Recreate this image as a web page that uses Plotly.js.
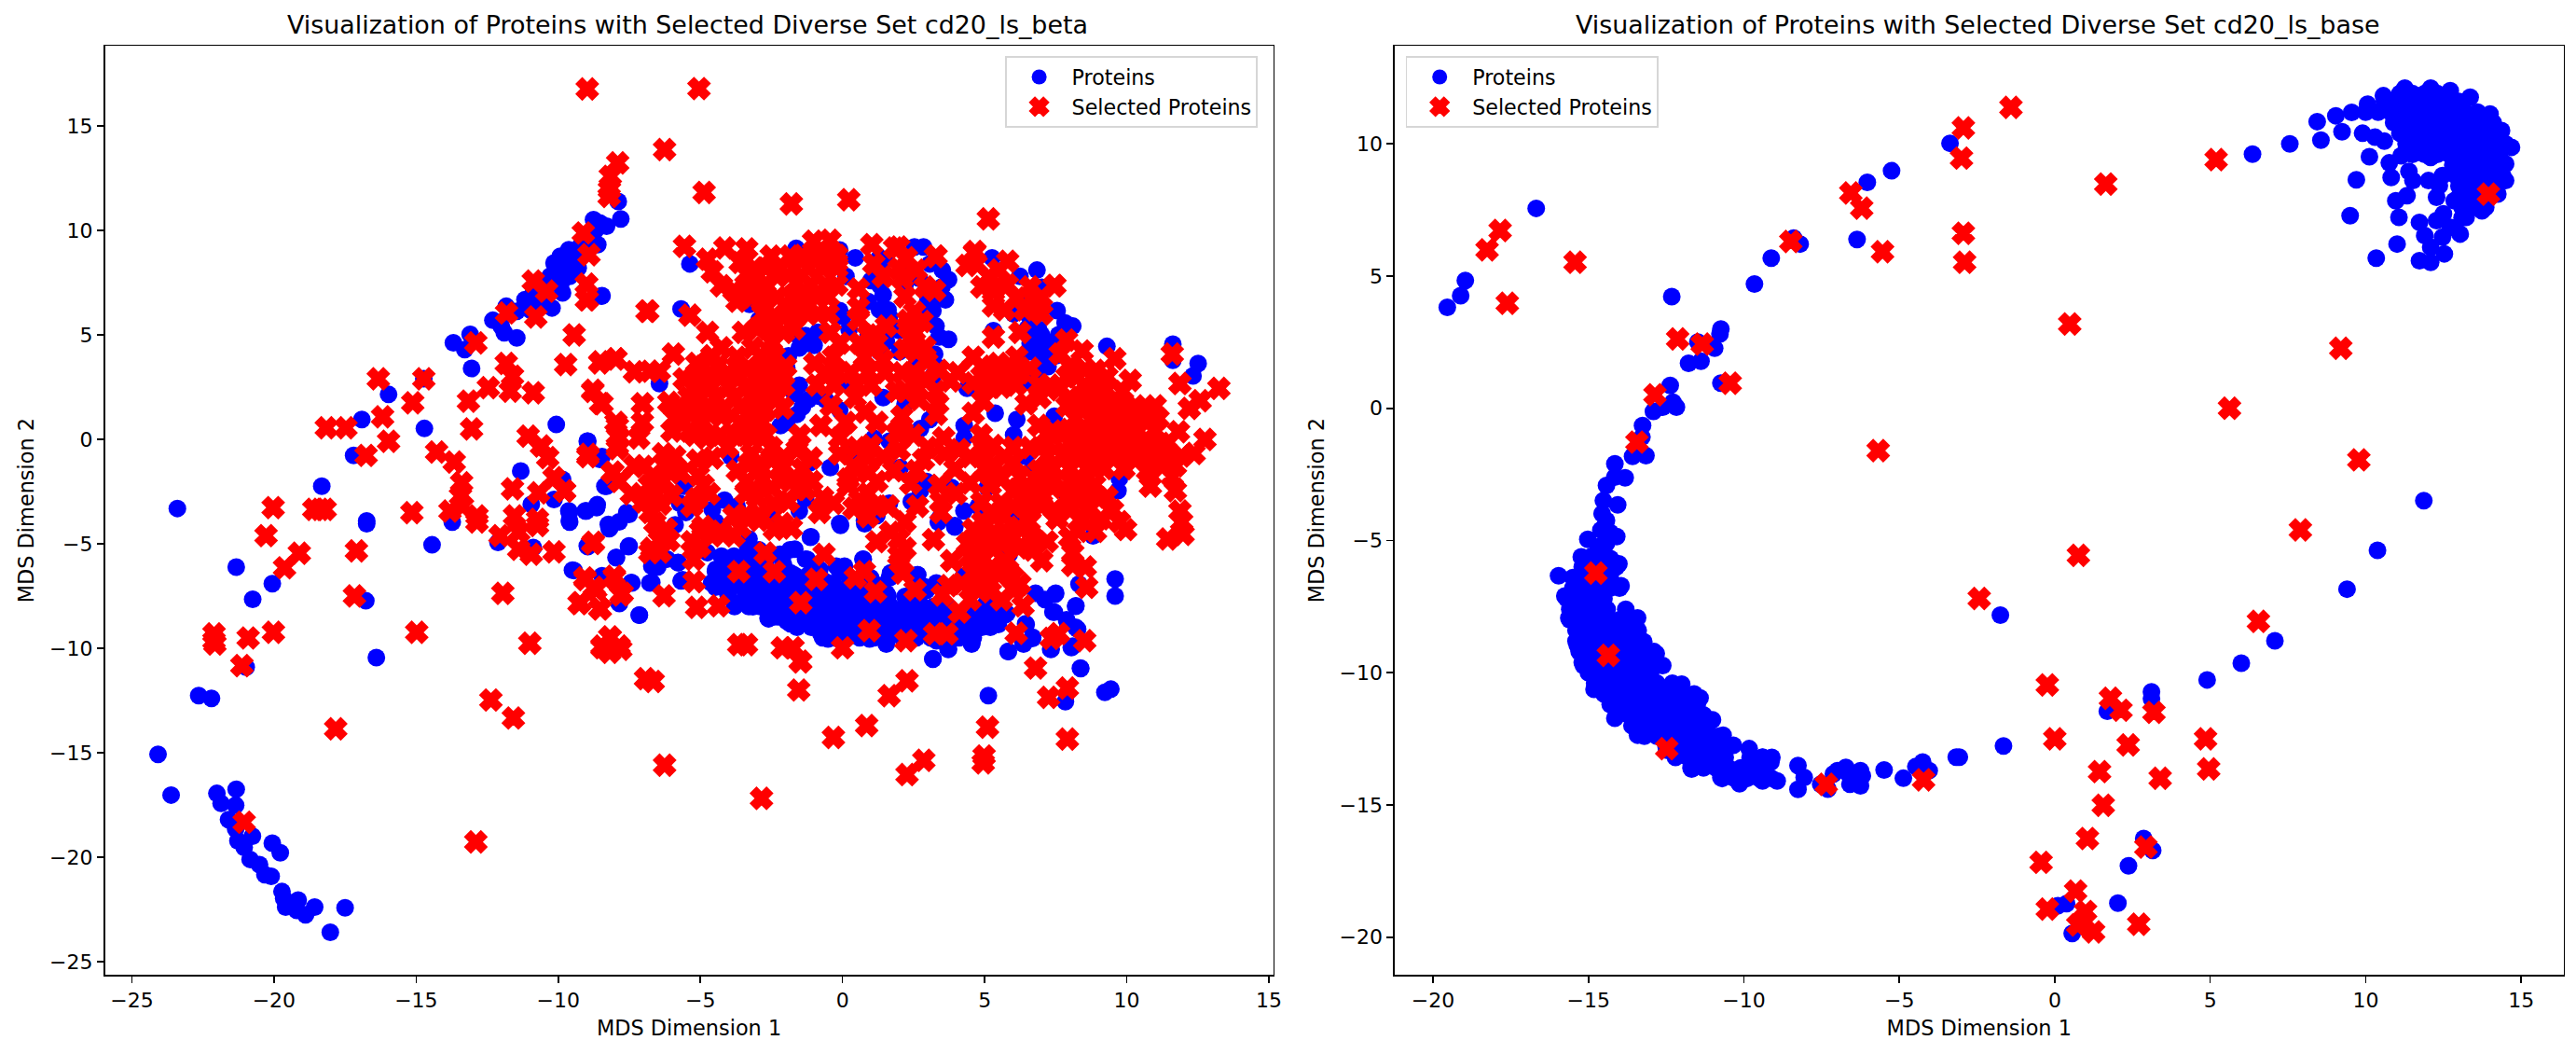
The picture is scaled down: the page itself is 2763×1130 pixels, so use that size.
<!DOCTYPE html>
<html><head><meta charset="utf-8">
<script src="https://cdn.plot.ly/plotly-3.0.1.min.js"></script>
<style>html,body{margin:0;padding:0;background:#fff}#c{width:2763px;height:1130px}</style>
</head><body><div id="c"></div>
<script>
const titleLeft = "Visualization of Proteins with Selected Diverse Set cd20_ls_beta";
const titleRight = "Visualization of Proteins with Selected Diverse Set cd20_ls_base";
const xLabel = "MDS Dimension 1", yLabel = "MDS Dimension 2";
const nameBlue = "Proteins", nameRed = "Selected Proteins";
const leftXTicks = [-25,-20,-15,-10,-5,0,5,10,15];
const leftYTicks = [-25,-20,-15,-10,-5,0,5,10,15];
const rightXTicks = [-20,-15,-10,-5,0,5,10,15];
const rightYTicks = [-20,-15,-10,-5,0,5,10];

// LEFT panel, blue
const leftBlueArm = [[-7.89,11.39],[-7.8,10.55],[-8.54,10.36],[-8.76,10.52],[-8.83,9.88],[-8.61,9.32],[-9.12,8.92],[-9.41,8.6],[-9.71,8.44],[-10,8.13],[-10.29,7.81],[-9.63,9.08],[-9.93,8.76],[-10.15,8.44],[-9.85,7.01],[-10.22,6.29],[-8.48,6.85],[-10.88,7.01],[-11.17,6.69],[-11.83,6.37],[-11.46,6.13],[-12.3,5.7],[-11.9,5.1],[-11.46,4.86],[-13.1,5.02],[-13.69,4.62],[-13.29,4.3],[-13.05,3.39],[-15.97,2.15],[-16.91,0.95],[-14.71,0.52],[-10.07,0.71],[-8.98,-0.09],[-8.54,-0.96],[-11.32,-1.52],[-18.32,-2.24],[-17.2,-0.77],[-23.4,-3.31],[-10.15,-2.88],[-9.05,-3.43],[-8.65,-3.27],[-8.36,-2.24],[-10.95,-3.11],[-9.63,-3.43],[-16.74,-3.91],[-9.85,-1.92],[-8.24,-4.07],[-7.51,-3.59],[-9.3,8.2],[-9.6,7.8],[-9.9,7.5],[-10.4,7.3],[-10.6,6.6],[-11,6.2],[-12,5.4],[-9.0,9.6],[-8.7,10.0],[-8.3,10.2],[-9.2,9.3],[-9.5,8.9],[-14.73,2.9]];
const leftBlueTail = [[-21.33,-6.12],[-20.06,-6.91],[-20.75,-7.66],[-16.77,-7.73],[-14.44,-5.05],[-16.4,-10.45],[-12.12,-4.93],[-20.98,-10.91],[-22.65,-12.27],[-22.2,-12.4],[-24.08,-15.08],[-23.62,-17.03],[-21.33,-16.75],[-22.01,-16.95],[-21.86,-17.43],[-21.35,-17.52],[-21.6,-18.21],[-21.35,-18.65],[-20.76,-19],[-21.27,-19.22],[-21.05,-19.54],[-20.06,-19.33],[-19.78,-19.79],[-20.84,-20.11],[-20.51,-20.36],[-20.32,-20.84],[-20.1,-20.92],[-19.72,-21.65],[-19.66,-21.98],[-19.59,-22.39],[-19.15,-22.06],[-19.2,-22.55],[-18.89,-22.76],[-18.57,-22.39],[-17.5,-22.43],[-18.02,-23.6],[-9.44,-6.28],[-8.98,-5.1],[-7.95,-5.66],[-8.21,-4.28],[-7.51,-5.1],[-7.41,-6.88],[-6.78,-6.88],[-7.15,-8.42],[-7.85,-7.86],[-8.46,-6.53],[-10.88,-5.18],[-9.6,-3.96],[-13.73,-3.96],[-16.74,-4.04],[-6.71,-6.07]];
const leftBlueUpper = [[-5.37,8.4],[-8.46,6.88],[-5.68,6.24],[-1.63,9.14],[-0.1,9.07],[0.45,8.69],[0.12,7.8],[-0.1,6.16],[0.01,5.87],[1.43,6.91],[1.32,7.35],[-1.3,4.97],[-1.52,4.38],[-0.87,5.12],[-2.4,3.78],[-1.96,3.41],[-2.94,5.72],[-3.27,6.46],[-1.52,2.59],[-0.87,2.07],[-1.41,1.55],[-1.9,1.03],[-2.18,0.66],[1.43,2],[1.1,0.06],[1.65,-0.09],[0.23,2.59],[-6.44,2.67],[-3.38,0.66],[-0.1,1.4],[-8.96,-0.09],[-4.69,3.04],[1.54,4.68],[1.65,5.87],[0.23,5.27],[2.53,9.21],[2.85,9.21],[3.73,7.65],[3.62,6.68],[3.18,6.16],[3.29,5.42],[3.73,4.79],[5.26,8.69],[6.84,8.1],[7.01,7.28],[6.24,7.8],[7.55,6.16],[8.1,5.42],[5.31,5.2],[7.01,4.68],[7.01,3.78],[7.23,3.48],[9.3,4.45],[11.62,4.56],[11.62,3.78],[12.51,3.63],[12.33,3.04],[3.24,4.08],[3.18,3.04],[2.74,0.51],[3.07,0.95],[4.28,0.66],[4.28,0.06],[5.37,1.25],[6.13,0.95],[7.45,1.1],[8.32,1.7],[8.43,0.06],[4.38,2.44],[2.2,1.7],[6.02,0.21],[3.51,8.1],[3.07,8.4],[6.02,6],[6.57,5.87],[6.9,5.27],[7.23,4.23],[6.57,2.74],[7.83,5.57],[7.34,3.93],[1.6,6.2],[2,5.2],[2.4,8],[2.2,7.4],[1,7.6],[0.9,6.6],[1.5,8.6],[3,7.2],[3.4,4.9],[6.6,4.6],[7.4,4.6],[6.8,4.2],[7.6,5],[6.4,6.4],[1.3,8.7],[1.3,6.2],[0.9,5],[1.5,5],[2,4.2],[2.6,3.6],[3.3,3.5],[2.7,7.7],[3,6.6],[2.9,5.9],[3.3,6.8],[3.5,7.3],[1.3,4.2],[6.5,5.3],[6.6,4.2],[7,5],[7.3,4.6],[7.5,4],[6.9,3.2],[-1.7,2.2],[-1.2,1.9],[-0.6,1.9],[-1.6,1.2],[-2,0.8],[-1.2,4.6],[-1.6,5],[-1,4.5],[-2.1,3.9],[-2.4,3.3],[-1.9,4]];
const leftBlueMiddle = [[-9.61,-3.5],[-9.61,-3.88],[-9.01,-3.43],[-8.63,-3.13],[-8.3,-2.24],[-8.46,-0.83],[-3.93,-0.83],[-5.57,-2.24],[-5.73,-3.06],[-5.51,-3.5],[-5.89,-4.1],[-8.19,-4.25],[-7.59,-3.5],[-7.53,-5.14],[-7.97,-5.66],[-9.5,-6.26],[-8.96,-5.14],[-6.5,-6.11],[-6.71,-6.85],[-6.17,-5.74],[-5.79,-5.89],[-5.68,-6.78],[-7.15,-8.42],[-7.43,-6.85],[-7.86,-7.82],[-7.86,-3.95],[-0.43,-1.35],[0.39,-0.6],[-1.3,-2.84],[-1.52,-3.43],[-0.1,-4.03],[0.77,-3.88],[1.21,-3.65],[-1.11,-4.67],[-4.15,-2.91],[-3.71,-3.21],[-4.58,-3.36],[-4.47,-3.95],[-2.51,-3.58],[0.72,-5.74],[1.65,-3.06],[-2.83,-2.24],[-1.14,-1.12],[2.03,-1.35],[2.96,-2.02],[2.74,-2.46],[2.42,-2.98],[3.84,-2.31],[3.4,-3.8],[4.27,-3.43],[4.77,-3.21],[3.95,-4.13],[5.09,-2.31],[6.46,-0.83],[6.68,-1.42],[7.01,-1.72],[6.19,-3.65],[5.86,-5.51],[8.81,-4.62],[9.74,-1.87],[9.69,-2.46],[7.77,-2.46],[-1.13,-4.69],[0.73,-5.75],[2.64,-6.48],[4.25,-6.56],[-0.07,-4.12],[0.78,-4.04],[3.37,-3.96],[3.95,-4.2],[9.59,-6.69],[9.59,-7.5]];
const leftBlueBand = [[-3.38,-4.99],[-2.94,-5.29],[-4.26,-5.59],[-3.82,-5.59],[-4.47,-6.33],[-4.04,-6.63],[-3.38,-6.03],[-2.94,-6.33],[-4.47,-7.08],[-4.04,-7.37],[-3.49,-7.82],[-3.16,-7.97],[-2.51,-7.52],[-2.62,-8.56],[-1.96,-8.71],[-1.3,-8.71],[-1.85,-5.29],[-1.3,-5.74],[-2.07,-6.03],[-1.52,-6.63],[-0.65,-6.78],[-0.1,-6.33],[0.45,-6.93],[0.99,-6.63],[-0.87,-7.82],[-0.32,-7.52],[0.23,-7.52],[0.77,-7.82],[1.43,-7.52],[-0.76,-9.31],[-0.87,-8.71],[-0.32,-9.16],[0.23,-9.31],[0.77,-9.31],[1.43,-9.31],[1.54,-9.76],[-0.32,-8.42],[0.23,-8.42],[0.88,-8.56],[1.54,-8.56],[-1.52,-7.37],[-2.07,-7.37],[-2.94,-7.08],[-2.29,-6.63],[1.65,-6.63],[-5.78,-5.91],[-5.63,-6.72],[-4.76,-5.42],[-4.46,-6.23],[-4.02,-5.91],[-4.61,-6.88],[-3.88,-7.04],[-3.51,-7.77],[-3.15,-8.02],[-3,-6.72],[-3.29,-4.77],[-2.27,-8.5],[-1.83,-8.83],[-1.32,-8.75],[-1.68,-5.26],[-2.12,-5.75],[-1.83,-6.4],[-1.54,-7.04],[-2.27,-7.21],[-2.56,-7.53],[-1.24,-5.75],[-0.8,-9.15],[-0.51,-9.56],[-0.22,-6.07],[-0.8,-6.23],[-0.51,-6.88],[0.22,-8.5],[0.51,-9.15],[0.95,-9.56],[-0.51,-7.86],[0.07,-7.37],[0.66,-7.86],[1.54,-7.37],[2.12,-8.18],[1.54,-8.99],[2.12,-8.83],[2.86,-7.04],[3.15,-8.18],[2.71,-9.15],[3.3,-9.64],[3.59,-8.83],[4.32,-9.15],[4.9,-9],[5.35,-8.83],[4.61,-8.67],[5.49,-8.34],[5.05,-7.86],[5.78,-8.34],[4.76,-5.75],[-0.07,-8.83],[-0.36,-8.5],[0.95,-8.5],[1.39,-8.18],[2.71,-8.18],[-1.1,-7.86],[-0.8,-7.21],[0.37,-6.72],[0.07,-6.07],[1.69,-6.4],[2.42,-7.53],[3.3,-6.88],[4.47,-7.04]];
const leftBlueBandFill = [[-3.4,-5.5],[-3,-5.5],[-2.6,-5.5],[-2.2,-5.5],[-3.7,-6],[-3.1,-6],[-2.7,-6],[-4,-6.5],[-3.6,-6.5],[-3.2,-6.5],[-2.7,-6.5],[-2.1,-6.5],[-1.7,-6.5],[-1.2,-6.5],[-4.2,-7],[-3.6,-7],[-3.1,-7],[-2.6,-7],[-2.2,-7],[-1.7,-7],[-1.2,-7],[-0.8,-7],[-0.3,-7],[0.2,-7],[0.7,-7],[1.3,-7],[-4,-7.5],[-3.4,-7.5],[-2.9,-7.5],[-2.3,-7.5],[-1.9,-7.5],[-1,-7.5],[-0.6,-7.5],[0,-7.5],[0.5,-7.5],[1,-7.5],[1.6,-7.5],[2.3,-7.5],[2.7,-7.5],[-3.8,-8],[-3.3,-8],[-2.9,-8],[-2.4,-8],[-2,-8],[-1.6,-8],[-1.1,-8],[-0.5,-8],[0,-8],[0.5,-8],[1.1,-8],[1.7,-8],[2.3,-8],[2.8,-8],[3.2,-8],[3.7,-8],[-2.4,-8.5],[-1.9,-8.5],[-1.5,-8.5],[-1.1,-8.5],[-0.7,-8.5],[-0.2,-8.5],[0.4,-8.5],[0.9,-8.5],[1.5,-8.5],[2,-8.5],[2.6,-8.5],[3.1,-8.5],[3.6,-8.5],[4,-8.5],[4.6,-8.5],[5,-8.5],[-1.6,-9],[-1.1,-9],[-0.6,-9],[-0.1,-9],[0.4,-9],[0.9,-9],[1.4,-9],[1.9,-9],[2.4,-9],[2.9,-9],[3.4,-9],[3.9,-9],[4.4,-9],[4.8,-9],[5.2,-9],[-0.7,-9.5],[-0.3,-9.5],[0.1,-9.5],[0.6,-9.5],[1.1,-9.5],[1.6,-9.5],[2.1,-9.5],[2.6,-9.5],[3.1,-9.5],[3.6,-9.5],[4.1,-9.5],[4.6,-9.5]];
const leftBlueBandRight = [[7.5,-7.37],[8.21,-7.97],[7.45,-8.27],[7.88,-8.64],[8.27,-9.09],[6.46,-8.86],[6.68,-9.53],[6.35,-9.75],[8.1,-9.9],[7.34,-10.05],[8.37,-10.95],[5.83,-10.16],[4.55,-9.75],[3.73,-10.05],[3.18,-10.5],[2.64,-6.48],[4.28,-6.56],[4.71,-6.33],[8.32,-6.93],[7.12,-7.67],[6.79,-7.37],[5.15,-8.56],[5.48,-8.86],[4.6,-9.16],[4.28,-8.86],[2.96,-9.31],[2.53,-8.71],[2.09,-8.12],[2.53,-8.12],[2.96,-8.27],[3.4,-8.27],[4.71,-8.27],[5.15,-7.97],[5.7,-8.42],[2.2,-7.52],[2.96,-7.22],[2.09,-9.31],[3.51,-8.86],[8.38,-10.97],[5.13,-12.27],[9.23,-12.11],[9.44,-11.96],[7.84,-12.56],[3.18,-10.53],[5.83,-10.16],[8.05,-9.97],[8.2,-7.99],[7.47,-7.42],[7.4,-8.26],[7.91,-8.75],[8.2,-9],[7.32,-10.05],[6.37,-9.8],[6.69,-9.48],[6.44,-8.83],[3.71,-10.05],[4.54,-9.8],[1.54,-9.8],[-2.6,-8.59]];

// LEFT panel, red
const leftRedArm = [[-8.98,16.77],[-7.91,13.23],[-8.17,12.59],[-8.2,11.95],[-8.21,11.63],[-9.12,9.88],[-8.92,8.84],[-9,7.41],[-8.98,6.69],[-10.88,7.57],[-10.41,7.09],[-11.82,6.05],[-10.79,5.86],[-9.44,5],[-12.9,4.62],[-11.83,3.63],[-9.74,3.58],[-8.54,3.66],[-7.98,3.85],[-7.32,3.23],[-6.85,6.13],[-6.78,3.26],[-16.33,2.9],[-14.73,2.9],[-12.46,2.47],[-11.61,3.02],[-11.69,2.31],[-10.88,2.23],[-8.78,2.35],[-8.51,1.72],[-15.12,1.75],[-13.16,1.83],[-16.18,1.08],[-18.16,0.55],[-17.47,0.55],[-13.05,0.5],[-11.06,0.15],[-10.59,-0.32],[-10.37,-0.88],[-15.97,-0.09],[-14.28,-0.61],[-13.66,-1.09],[-16.76,-0.77],[-8.95,-0.72],[-7.92,0.63],[-7.92,-0.32],[-8.1,-1.6],[-10.15,-1.84],[-13.4,-2.08],[-13.44,-2.72],[-13.37,-3.2],[-11.61,-2.37],[-10.69,-2.56],[-9.78,-2.48],[-20.03,-3.27],[-18.38,-3.35],[-18.6,-3.35],[-18.2,-3.35],[-15.15,-3.51],[-13.81,-3.43],[-12.86,-3.67],[-11.54,-3.67],[-10.73,-3.83]];
const leftRedTail = [[-20.28,-4.61],[-19.11,-5.45],[-19.63,-6.15],[-17.1,-5.34],[-17.17,-7.5],[-22.11,-9.32],[-22.11,-9.64],[-22.08,-9.8],[-20.91,-9.51],[-20.02,-9.24],[-21.13,-10.83],[-14.98,-9.24],[-11.95,-7.37],[-11,-9.76],[-12.37,-12.48],[-11.58,-13.34],[-17.83,-13.86],[-21.05,-18.33],[-12.9,-19.27],[-10.15,-5.39],[-12.05,-4.61],[-11.39,-4.45],[-11.39,-5.26],[-10.95,-5.5],[-10.73,-4.12],[-12.86,-3.96],[-9.05,-6.72],[-8.76,-4.93],[-8.68,-7.2],[-9.27,-7.86],[-8.54,-8.1],[-8.02,-6.64],[-7.8,-7.45],[-8.17,-9.48],[-8.46,-9.97],[-7.8,-10.05],[-8.17,-9.97],[-6.93,-11.46],[-6.78,-5.42]];
const leftRedTop = [[-5.05,16.79],[-6.26,13.87],[-4.87,11.82],[-1.8,11.27],[0.22,11.47],[5.13,10.55],[-5.56,9.24],[-4.14,9.16],[-3.37,9.11],[-1.02,9.48],[-0.44,9.53],[1.03,9.32],[1.83,9.16],[3.27,8.76],[4.64,8.92],[5.81,8.52],[7.47,7.36],[-4.75,8.62],[-4.58,8.02],[-3.6,8.47],[-2.51,8.77],[-1.85,8.77],[-0.65,8.62],[-0.21,8.47],[-4.26,7.35],[-3.82,7.13],[-3.27,7.8],[-2.72,7.43],[-2.29,7.8],[-1.63,7.5],[-3.71,6.61],[-2.83,6.61],[-2.4,5.87],[-2.07,5.12],[-3.49,5.12],[-2.51,4.68],[-0.87,6.91],[-0.87,6.01],[-1.3,6.46],[-0.43,5.12],[0.56,7.2],[0.56,6.31],[0.56,5.72],[1.1,8.4],[1.43,7.8],[1.54,5.42],[-0.32,3.93],[-0.98,3.63],[0.77,3.93],[1.43,3.78],[-4.26,4.38],[-3.71,3.93],[-3.16,4.38],[-4.8,2.89],[-4.04,3.19],[-3.38,3.34],[-2.51,2.59],[-2.07,2.59],[-2.94,2.29],[-4.47,2],[-3.82,2],[-4.91,0.81],[-4.26,1.1],[-3.6,1.55],[-2.83,0.81],[-3.16,0.06],[-0.76,0.66],[0.45,2],[0.12,0.81],[1.21,0.81],[-0.1,0.06],[-3.82,0.21],[-4.8,0.06],[-7.86,0.06],[-7.17,0.06],[-5.95,4.08],[-6.44,3.26],[-5.13,3.63],[-5.57,2.89],[-6.11,1.77],[-7.04,1.7],[-7.04,0.81],[-7.97,0.81],[-8.46,1.7],[-8.79,2.29],[-7.97,3.86],[-8.52,3.71],[-5.37,5.94],[-4.75,5.12],[-6.88,6.13],[-9.01,7.43],[-9.01,6.68],[-5.9,1],[-5.4,1.6],[-5,1.2],[-6,0.4],[-5.4,0.4],[-2.1,1.5],[-1.5,0.2],[-0.4,1.6],[0.8,1.3]];
const leftRedTopFill = [[-1.4,8.8],[-1,8.8],[-0.6,8.8],[-0.2,8.8],[-3.1,8.2],[-2.7,8.2],[-2.2,8.2],[-1.7,8.2],[-1.2,8.2],[-0.7,8.2],[-0.2,8.2],[-3.4,7.4],[-3,7.4],[-1.1,7.4],[-0.6,7.4],[-0.2,7.4],[-3.2,6.8],[-2.3,6.8],[-1.8,6.8],[-1.4,6.8],[-0.9,6.8],[-0.5,6.8],[-2.8,6],[-2,6],[-1.6,6],[-1.2,6],[-0.5,6],[-3,5.3],[-2.6,5.3],[-1.7,5.3],[-4.6,4],[-2.9,4],[-2.4,4],[-4.9,3.5],[-4.4,3.5],[-3.7,3.5],[-2.9,3.5],[-2.4,3.5],[-2,3.5],[-5.2,3],[-4.3,3],[-3.6,3],[-3,3],[-2.5,3],[-2.1,3],[-5.2,2.5],[-4.6,2.5],[-4,2.5],[-3.4,2.5],[-3,2.5],[-5.4,2],[-5,2],[-3.2,2],[-2.7,2],[-2.3,2],[-5.6,1.4],[-4.7,1.4],[-4.2,1.4],[-3.1,1.4],[-2.7,1.4],[-5.6,0.8],[-3.6,0.8],[-3.3,0.8],[-5.2,0.2],[-4.3,0.2],[-3.4,0.2],[-2.7,0.2],[-0.6,3.2],[-0.2,3.2],[0.3,3.2],[0.9,3.2],[1.5,3.2],[-0.9,2.6],[-0.3,2.6],[0.5,2.6],[1,2.6],[-0.1,4.6],[0.6,4.6],[1.2,4.6],[0.9,5],[1.1,5]];
const leftRedRight = [[2.25,8.69],[3.29,8.77],[1.98,9.21],[1.98,8.17],[4.66,8.99],[4.38,8.32],[5.15,7.8],[5.31,7.06],[5.31,6.39],[6.13,6.76],[6.68,6.76],[7.45,7.35],[7.01,6],[3.24,7.13],[2.2,6.83],[2.53,6.09],[2.8,5.64],[2.53,4.68],[5.31,4.9],[6.24,5.12],[11.6,4.08],[7.88,4.75],[7.66,4.08],[8.43,4.23],[9.58,3.86],[10.12,2.82],[9.85,2.3],[2.96,3.71],[4.6,3.93],[4.06,3.19],[6.13,3.93],[5.48,3.63],[6.24,3.19],[5.59,3.04],[8.54,3.34],[8.98,2.59],[7.61,2.37],[6.95,2],[6.46,1.7],[11.87,2.67],[13.24,2.44],[12.58,1.85],[12.2,1.48],[3.35,1.7],[3.29,2.29],[2.53,2.74],[2.09,3.19],[2.09,1.1],[4.93,1.85],[4.6,1.25],[4.88,0.21],[3.56,0.06],[11.82,0.36],[12.75,-0.01],[9.52,1.4],[10.18,1.4],[10.62,1.4],[8.98,1.4],[8.87,0.66],[9.52,0.51],[10.18,0.51],[10.94,-0.09],[7.72,0.21],[6.9,0.66],[9.15,2.23],[10.47,1.27],[9.59,0.95],[8.86,0.79],[9.89,0.31],[10.18,-0.33],[9.3,-0.33],[8.71,-0.96],[7.98,0.47],[7.83,-0.64],[11.35,-0.48],[8.86,-1.28],[11.93,-0.8],[10.91,-1.28],[9.5,-0.9],[10.3,-1],[8.2,0.1]];
const leftRedRightFill = [[8,2],[8.6,2],[9.2,2],[7.9,1.6],[8.5,1.6],[9.1,1.6],[9.7,1.6],[10.3,1.6],[11,1.6],[8.2,1],[8.8,1],[9.4,1],[10,1],[10.6,1],[11.1,1],[7.4,0.4],[8.4,0.4],[9,0.4],[9.7,0.4],[10.4,0.4],[11,0.4],[7.2,-0.2],[8,-0.2],[8.6,-0.2],[9.2,-0.2],[9.8,-0.2],[10.6,-0.2],[11.2,-0.2],[7.2,-0.8],[8,-0.8],[9,-0.8],[9.9,-0.8],[10.6,-0.8],[11.4,-0.8],[7.4,-1.4],[8,-1.4],[8.6,-1.4],[9.2,-1.4],[9.9,-1.4],[7.4,-2],[8,-2],[8.4,-2],[7.9,-2.8],[8.3,-2.8],[9,-2.8],[8,-3.4],[8.6,-3.4],[9.5,-3.4],[8.3,-4.4],[8.9,-4.4]];
const leftRedLowerLeft = [[-8.96,-0.83],[-7.92,-0.45],[-8.08,-1.57],[-7.86,-2.02],[-7.32,-1.27],[-7.43,-2.61],[-9.78,-2.46],[-6.66,-1.72],[-6.55,-2.61],[-6.77,-3.5],[-6.17,-1.27],[-5.9,-0.83],[-5.07,-1.72],[-5.13,-2.84],[-4.69,-2.61],[-4.58,-0.9],[-4.04,-0.38],[-3.38,-2.02],[-2.94,-1.27],[-2.83,-1.94],[-2.07,-0.83],[-2.18,-2.02],[-1.41,-1.42],[-1.08,-2.02],[-1.9,-2.98],[-0.81,-3.5],[-0.32,-3.06],[0.39,-1.27],[1.43,-0.83],[1.21,-2.02],[0.72,-3.13],[1.16,-3.21],[-2.94,-3.58],[-2.94,-3.88],[-2.12,-4.03],[-1.8,-4.25],[-3.82,-3.65],[-3.82,-4.62],[-4.91,-4.17],[-4.58,-4.62],[-5.02,-5.14],[-5.24,-5.74],[-6.44,-4.84],[-6.71,-5.22],[-6.11,-4.84],[-8.79,-4.99],[-0.65,-5.51],[-2.72,-5.44],[-2.4,-6.33],[-3.65,-6.33],[-0.92,-6.7],[0.45,-6.63],[0.77,-6.33],[1.16,-7.3],[0.94,-9.16],[-1.47,-7.82],[-5.22,-6.81],[-6.28,-7.49],[-5.13,-8.04],[-4.36,-7.97],[-9.07,-6.63],[-8.03,-6.56],[-8.74,-7.08],[-7.75,-7.37],[-9.23,-7.82],[-8.52,-8.12],[-8.19,-9.46],[-8.46,-9.9],[-7.86,-9.9],[-8.19,-10.2],[-3.65,-9.83],[-3.38,-9.83],[-2.12,-9.98],[-1.74,-9.98],[-1.47,-10.65],[0,-9.98],[-6.26,-15.6],[-2.85,-17.19],[-6.66,-11.59],[-1.54,-12],[-0.32,-14.27],[0.85,-13.7],[-7,-1.3],[-6.8,-2.2],[-7,-3],[-6.3,-2],[-6.4,-3.1],[-6.6,-4],[-6.2,-4.3],[-6.4,-5.4],[-3.3,-1.2],[-2.5,-2.3],[-2.5,-1],[-1.7,-1.8],[-1.3,-2.4],[-3.7,-1.5],[-3.4,-2.6],[1.8,-1.5],[0.9,-0.9],[0.9,-1.6],[0.6,-2.9],[1.6,-3.2]];
const leftRedLowerRight = [[2.85,-0.98],[3.95,-1.42],[4.49,-0.83],[4.49,-2.09],[5.7,-0.83],[5.59,-1.87],[6.24,-1.79],[5.59,-3.06],[6.52,-2.84],[3.46,-2.98],[3.46,-3.5],[2.64,-3.21],[2.2,-3.95],[4.93,-3.95],[5.37,-3.65],[5.7,-4.4],[6.57,-3.95],[6.02,-4.7],[6.68,-4.7],[7.77,-0.83],[8.43,-0.83],[9.09,-0.53],[9.74,-0.53],[10.4,-0.53],[11.16,-1.12],[11.71,-1.27],[12.37,-0.68],[10.73,-1.5],[10.83,-2.24],[11.6,-1.79],[11.71,-2.46],[11.87,-3.43],[11.93,-3.95],[11.98,-4.55],[11.44,-4.77],[7.39,-2.31],[7.45,-3.36],[8.1,-2.61],[8.87,-2.17],[8.65,-2.91],[9.3,-2.76],[7.55,-3.8],[8.43,-3.8],[9.09,-3.8],[9.96,-4.32],[9.74,-3.95],[7.99,-4.7],[7.01,-5.81],[8.1,-5.44],[8.1,-6.03],[8.54,-6.11],[8.59,-7.08],[3.84,-5.81],[4.49,-5.59],[5.26,-6.11],[5.81,-6.26],[2.2,-5.22],[2.03,-5.89],[6.24,-6.93],[3.73,-7],[3.51,-7.45],[4.71,-7.08],[4.49,-7.67],[4.11,-8.27],[5.59,-7.67],[6.35,-7.97],[6.02,-7.22],[5.04,-6.78],[2.55,-7.2],[3.24,-9.31],[3.67,-9.31],[2.23,-9.64],[6.11,-9.28],[7.34,-9.53],[8.52,-9.64],[6.79,-10.95],[7.91,-11.91],[7.25,-12.35],[7.91,-14.35],[2.27,-11.56],[1.64,-12.27],[-1.49,-10.62],[5.1,-13.78],[4.98,-15.16],[4.95,-15.49],[2.86,-15.37],[2.27,-16.05],[7.6,-9.3],[1.98,-5.58],[1.98,-4.77],[1.69,-4.45],[2.12,-6.4],[1.2,-4.9],[0.9,-2.6],[0.2,-2.2],[2.4,-2.1],[3.2,-4.8],[2,-0.5],[2.6,-1.5],[3.4,-2.2],[4,-2.6],[5,-0.5],[5,-1.4],[5.2,-2.2],[4.9,-3],[5.3,-4.6],[6,-3.2],[6.2,-4.2],[3,-0.4],[3.6,-0.7],[6.9,-1.5],[6.6,-0.4],[7,-3.2],[7,-2.6]];
const leftRedMidA = [[4.7,8.4],[5.5,8.1],[5.8,7.4],[4.9,7.3],[6.6,7.3],[7,6.8],[6.4,6.2],[5.7,6.2],[6.8,6.3],[4.9,3.5],[5.1,3.2],[5.8,3.3],[6.6,3.4],[6.9,2.6],[5.2,2.5],[5.6,2.5],[6.1,2.6],[4.6,2.7],[8,3.5],[8.2,3],[8.9,3.3],[9.3,3],[8.5,2.6],[7.9,3],[7.3,2.6],[2.3,5.4],[2.5,5],[2.2,4.3],[2.6,4.2],[2.9,4.4],[2.5,3.2],[2.9,2.9],[3.4,3.3],[3.8,2.8],[3.3,1.2],[2.2,2.3],[2.7,1.9],[2.1,0.4],[2.5,0.2],[1.9,2.3],[2.1,7.7],[2.6,8.1],[2.3,5.7],[2.9,7.3]];
const leftRedMidB = [[4.1,-0.5],[5.3,-0.3],[6,-0.4],[5.3,-1.2],[6,-1.1],[6.4,-2.3],[6.9,-2.1],[6,-2.5],[5.2,-3.5],[4.6,-4.3],[5.1,-4.6],[5.6,-5],[6.2,-5.2],[6.7,-5.3],[7.2,-4.9],[5,-5.2],[4.4,-5],[5.6,-3.6],[6.6,-3.4],[4.8,-5.8],[5.5,-6.5],[5.7,-5.8],[4.6,-6.4],[4.2,-6.9],[5.2,-7.3],[6,-6.6],[-3.2,-0.7],[-2.5,-0.4],[-1.6,-0.5],[-1.1,-0.9],[-0.1,-0.7],[0.5,-0.4],[1,-0.3],[1.9,0.3],[-2.2,-1.4],[-3,-2.8],[-2.4,-3.1],[-1.6,-2.4],[-0.7,-2.8],[0.2,-1.9],[0.4,-3.3],[0.9,-3.7],[-3.4,-3.6],[-3.6,-4.2],[-4.3,-4.4],[-2.4,-4.3],[-5.3,-4.9],[-5,-4.4],[-5.3,-3.2],[-4.9,-2.2],[-5.1,-1],[-5.7,-1.6],[-6,-2.7],[-6.3,-0.7]];

// RIGHT panel, blue
const rightBlueArc = [[-19.54,3.82],[-19.11,4.26],[-18.96,4.83],[-16.68,7.56],[-12.32,4.22],[-9.66,4.7],[-9.12,5.68],[-8.4,6.44],[-8.19,6.21],[-6.36,6.38],[-6.03,8.54],[-5.25,8.98],[-3.37,10.02],[-10.74,3],[-10.77,2.81],[-10.94,2.27],[-11.48,2.5],[-11.38,1.78],[-11.78,1.7],[-10.74,0.95],[-12.37,0.86],[-12.28,0.23],[-12.17,0.04],[-12.61,0.04],[-12.91,-0.12],[-13.26,-0.65],[-13.28,-1.09],[-13.58,-1.82],[-13.15,-1.79],[-14.15,-2.1],[-14.15,-2.6],[-13.82,-2.63],[-14.42,-2.92],[-14.52,-3.49],[-14.06,-3.65],[-14.56,-3.99],[-14.42,-4.24],[-14.5,-4.5],[-14.3,-4.7],[-14.6,-4.6],[-14.09,-4.85],[-15.02,-4.96],[-15.23,-5.62],[-14.42,-5.11],[-14.29,-5.69],[-14.69,-5.24]];
const rightBlueCrescentEdge = [[-15.96,-6.33],[-15.76,-7.1],[-15.63,-7.93],[-15.36,-8.96],[-15.16,-9.73],[-14.82,-10.63],[-14.15,-11.72],[-13.42,-12.36],[-12.48,-12.93],[-11.68,-13.64],[-10.74,-13.96],[-10.14,-14.2],[-9.4,-14.09],[-8.93,-14.09],[-14.02,-5.88],[-13.95,-6.71],[-13.42,-7.93],[-13.22,-8.83],[-12.82,-9.28],[-12.61,-9.73],[-12,-10.43],[-11.41,-10.95],[-11.01,-11.78],[-10.67,-12.36],[-10.34,-12.74],[-9.83,-12.87],[-9.4,-13.19],[-9.13,-13.38],[-8.26,-13.51],[-8.06,-13.96],[-8.26,-14.41],[-7.53,-14.22],[-6.99,-13.7],[-6.72,-13.58],[-6.59,-14.22],[-6.25,-13.7],[-6.25,-14.28],[-6.19,-13.9],[-5.49,-13.68],[-4.87,-13.99],[-4.47,-13.55],[-4.25,-13.38],[-4.04,-13.7],[-3.17,-13.19],[-7.12,-13.83],[-6.6,-13.9],[-7.3,-14.4],[-1.65,-12.77]];
const rightBlueCrescentFill = [[-14.9,-5.6],[-14.5,-5.6],[-15.2,-6],[-14.8,-6],[-14.4,-6],[-14.1,-6],[-15.5,-6.4],[-15.1,-6.4],[-14.7,-6.4],[-14.3,-6.4],[-15.5,-6.8],[-15.1,-6.8],[-14.7,-6.8],[-14.3,-6.8],[-14,-6.8],[-15.7,-7.2],[-15.3,-7.2],[-14.9,-7.2],[-14.5,-7.2],[-15.6,-7.6],[-15.2,-7.6],[-14.8,-7.6],[-14.4,-7.6],[-13.8,-7.6],[-15.6,-8],[-15.2,-8],[-14.8,-8],[-14.4,-8],[-14,-8],[-13.6,-8],[-15.4,-8.4],[-15,-8.4],[-14.6,-8.4],[-14.2,-8.4],[-13.8,-8.4],[-13.4,-8.4],[-15.4,-8.8],[-15,-8.8],[-14.6,-8.8],[-14.2,-8.8],[-13.8,-8.8],[-13.4,-8.8],[-15.3,-9.2],[-14.9,-9.2],[-14.5,-9.2],[-14.1,-9.2],[-13.7,-9.2],[-13.3,-9.2],[-12.9,-9.2],[-15.2,-9.6],[-14.8,-9.6],[-14.4,-9.6],[-14,-9.6],[-13.6,-9.6],[-13.2,-9.6],[-12.8,-9.6],[-15,-10],[-14.6,-10],[-14.2,-10],[-13.8,-10],[-13.4,-10],[-13,-10],[-14.8,-10.4],[-14.4,-10.4],[-14,-10.4],[-13.6,-10.4],[-13.2,-10.4],[-12.8,-10.4],[-12.3,-10.4],[-14.5,-10.8],[-14.1,-10.8],[-13.7,-10.8],[-13.3,-10.8],[-12.9,-10.8],[-12.5,-10.8],[-12.1,-10.8],[-11.6,-10.8],[-14.3,-11.2],[-13.9,-11.2],[-13.5,-11.2],[-13.1,-11.2],[-12.7,-11.2],[-12.3,-11.2],[-11.9,-11.2],[-11.5,-11.2],[-14.1,-11.6],[-13.7,-11.6],[-13.3,-11.6],[-12.9,-11.6],[-12.5,-11.6],[-12.1,-11.6],[-11.7,-11.6],[-11.3,-11.6],[-13.6,-12],[-13.2,-12],[-12.8,-12],[-12.4,-12],[-12,-12],[-11.6,-12],[-11.2,-12],[-13.2,-12.4],[-12.8,-12.4],[-12.4,-12.4],[-12,-12.4],[-11.6,-12.4],[-11.2,-12.4],[-10.8,-12.4],[-12.5,-12.8],[-12.1,-12.8],[-11.7,-12.8],[-11.3,-12.8],[-10.9,-12.8],[-10.5,-12.8],[-12.2,-13.2],[-11.8,-13.2],[-11.4,-13.2],[-11,-13.2],[-10.6,-13.2],[-9.8,-13.2],[-9.4,-13.2],[-9.1,-13.2],[-11.7,-13.6],[-11.3,-13.6],[-10.9,-13.6],[-10.5,-13.6],[-10.1,-13.6],[-9.7,-13.6],[-9.3,-13.6],[-10.7,-14],[-10.3,-14],[-9.9,-14],[-9.5,-14],[-9.1,-14]];
const rightBlueBottom = [[10.38,-5.37],[9.4,-6.84],[7.08,-8.79],[6,-9.64],[4.9,-10.27],[3.11,-10.72],[3.11,-10.98],[1.69,-11.46],[-1.75,-7.82],[2.86,-16.27],[3.15,-16.72],[2.37,-17.3],[2.03,-18.71],[0.38,-18.73],[0.1,-18.81],[0.56,-19.86],[11.87,-3.49],[-3.07,-13.19]];
const rightBlueClusterLoose = [[6.36,9.61],[7.56,10],[8.44,10.84],[8.56,10.14],[9.04,11.06],[9.24,10.46],[9.7,8.64],[9.5,7.28],[10.12,9.51],[10.34,5.68],[11.01,6.21],[11.73,5.58],[12.09,5.52],[12.53,5.84],[10.82,8.73],[10.76,9.28],[11.07,7.22],[10.97,7.85],[11.33,8.04],[11.39,8.96],[11.52,8.61],[11.14,9.55],[12.09,9.49],[11.73,7.03],[11.9,6.53],[12.09,6.09],[12.28,7.98],[12.37,8.42],[12.02,8.61],[12.47,8.8],[12.28,7.1],[12.5,7.35],[13.04,6.59],[12.72,6.84],[12.47,6.47],[12.85,7.85],[13.23,7.22],[13.74,7.47],[9.55,11.19],[9.9,10.4],[10.3,10.25],[10.6,10.1],[10.06,11.5],[10.57,11.82]];
const rightBlueClusterFill = [[11.26,12.11],[12.09,12.11],[12.72,12.01],[13.36,11.76],[14,11.13],[14.37,10.5],[14.69,9.87],[14.5,9.24],[14.5,8.61],[14.25,8.1],[13.86,7.6],[11.1,11.9],[11.5,11.9],[11.9,11.9],[12.3,11.9],[12.7,11.9],[10.6,11.6],[11,11.6],[11.4,11.6],[11.8,11.6],[12.2,11.6],[12.6,11.6],[13,11.6],[10,11.2],[10.4,11.2],[10.8,11.2],[11.2,11.2],[11.6,11.2],[12,11.2],[12.4,11.2],[12.8,11.2],[13.2,11.2],[13.6,11.2],[10.9,10.8],[11.3,10.8],[11.7,10.8],[12.1,10.8],[12.5,10.8],[12.9,10.8],[13.3,10.8],[13.7,10.8],[14.1,10.8],[11.1,10.4],[11.5,10.4],[11.9,10.4],[12.3,10.4],[12.7,10.4],[13.1,10.4],[13.5,10.4],[13.9,10.4],[14.3,10.4],[11.3,10],[11.7,10],[12.1,10],[12.5,10],[12.9,10],[13.3,10],[13.7,10],[14.1,10],[14.5,10],[11.5,9.6],[11.9,9.6],[12.3,9.6],[12.7,9.6],[13.1,9.6],[13.5,9.6],[13.9,9.6],[14.3,9.6],[12.8,9.2],[13.2,9.2],[13.6,9.2],[14,9.2],[14.4,9.2],[12.9,8.8],[13.3,8.8],[13.7,8.8],[14.1,8.8],[14.4,8.8],[13,8.4],[13.4,8.4],[13.8,8.4],[14.2,8.4],[13,8],[13.4,8],[13.8,8],[13.1,7.6],[13.5,7.6],[13.8,7.6],[13.1,7.2]];

// RIGHT panel, red
const rightRed = [[-18.26,5.99],[-17.84,6.72],[-17.61,3.97],[-15.43,5.52],[-12.13,2.62],[-11.34,2.43],[-10.44,0.95],[-12.86,0.51],[-13.44,-1.28],[-8.49,6.31],[-6.56,8.14],[-6.21,7.57],[-5.54,5.92],[-5.68,-1.6],[-1.41,11.38],[-2.94,10.6],[-3,9.46],[-2.94,6.62],[-2.9,5.52],[1.64,8.48],[5.19,9.4],[0.48,3.19],[9.2,2.27],[5.62,0],[9.78,-1.95],[13.95,8.1],[-14.76,-6.23],[-14.36,-9.34],[-12.48,-12.87],[-7.35,-14.22],[-4.22,-14.05],[7.9,-4.6],[0.76,-5.56],[-2.43,-7.19],[6.55,-8.06],[-0.24,-10.46],[1.79,-10.97],[2.13,-11.42],[3.19,-11.5],[0,-12.5],[2.36,-12.73],[4.85,-12.5],[4.95,-13.64],[1.44,-13.74],[3.39,-13.99],[1.56,-15.01],[1.05,-16.27],[2.93,-16.59],[-0.44,-17.17],[0.67,-18.26],[-0.24,-18.94],[0.99,-19.03],[0.93,-19.35],[0.74,-19.54],[1.25,-19.8],[2.7,-19.51]];

const leftBlue = [].concat(leftBlueArm,leftBlueTail,leftBlueUpper,leftBlueMiddle,leftBlueBand,leftBlueBandFill,leftBlueBandRight);
const leftRed = [].concat(leftRedArm,leftRedTail,leftRedTop,leftRedTopFill,leftRedRight,leftRedRightFill,leftRedLowerLeft,leftRedLowerRight,leftRedMidA,leftRedMidB);
const rightBlue = [].concat(rightBlueArc,rightBlueCrescentEdge,rightBlueCrescentFill,rightBlueBottom,rightBlueClusterLoose,rightBlueClusterFill);

const F = "DejaVu Sans";
const W = 2763, H = 1130;
const col = p => p.map(d=>d[0]), row = p => p.map(d=>d[1]);
function pts(data,name,color,symbol,size,lw,xa,ya,leg){
  return {type:'scatter',mode:'markers',x:col(data),y:row(data),name,xaxis:xa,yaxis:ya,legend:leg,
    marker:{color,symbol,size,line:{width:lw,color}},hoverinfo:'skip'};
}
const traces = [
  pts(leftBlue,nameBlue,'#0000ff','circle',19,0,'x','y','legend'),
  pts(leftRed,nameRed,'#ff0000','x',19,3,'x','y','legend'),
  pts(rightBlue,nameBlue,'#0000ff','circle',19,0,'x2','y2','legend2'),
  pts(rightRed,nameRed,'#ff0000','x',19,3,'x2','y2','legend2')
];
function ax(range,ticks,dom,anchor,title,standoff){
  return {range,domain:dom,anchor,tickmode:'array',tickvals:ticks,ticks:'outside',ticklen:7,tickwidth:1.6,tickcolor:'#000',
    showline:true,mirror:true,linecolor:'#000',linewidth:1.6,showgrid:false,zeroline:false,
    tickfont:{family:F,size:22,color:'#000'},automargin:false,
    title:{text:title,font:{family:F,size:22.4,color:'#000'},standoff}};
}
const legendBase = {yanchor:'top',xanchor:'left',y:1-60/H,bgcolor:'rgba(255,255,255,0.8)',bordercolor:'#d6d6d6',borderwidth:1.6,
  font:{family:F,size:22.2,color:'#000'},itemwidth:60,itemclick:false,itemdoubleclick:false};
const layout = {
  width:W,height:H,margin:{l:0,r:0,t:0,b:0},paper_bgcolor:'#fff',plot_bgcolor:'#fff',showlegend:true,
  font:{family:F,color:'#000'},
  xaxis:ax([-25.95,15.15],leftXTicks,[112.5/W,1365.6/W],'y',xLabel,10),
  yaxis:ax([-25.63,18.83],leftYTicks,[1-1045/H,1-49.3/H],'x',yLabel,10),
  xaxis2:ax([-21.23,16.36],rightXTicks,[1496/W,2749.5/W],'y2',xLabel,10),
  yaxis2:ax([-21.42,13.7],rightYTicks,[1-1045/H,1-49.3/H],'x2',yLabel,10),
  legend:Object.assign({},legendBase,{x:1078/W}),
  legend2:Object.assign({},legendBase,{x:1507.6/W}),
  annotations:[
    {text:titleLeft,xref:'paper',yref:'paper',x:737/W,y:1-27/H,xanchor:'center',yanchor:'middle',showarrow:false,font:{family:F,size:26.9,color:'#000'}},
    {text:titleRight,xref:'paper',yref:'paper',x:2121/W,y:1-27/H,xanchor:'center',yanchor:'middle',showarrow:false,font:{family:F,size:26.9,color:'#000'}}
  ]
};
Plotly.newPlot('c',traces,layout,{staticPlot:true,displayModeBar:false});
</script></body></html>
